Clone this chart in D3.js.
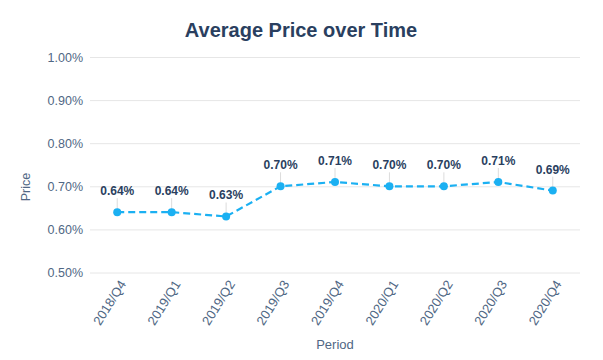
<!DOCTYPE html>
<html><head><meta charset="utf-8">
<script src="https://cdn.jsdelivr.net/npm/d3@7"></script>
<style>body{margin:0;background:#fff}svg{display:block}text{font-family:"Liberation Sans",Arial,sans-serif}</style>
</head><body>
<svg id="chart" width="603" height="360"></svg>
<script>
const periods = ["2018/Q4","2019/Q1","2019/Q2","2019/Q3","2019/Q4","2020/Q1","2020/Q2","2020/Q3","2020/Q4"];
const prices = [0.64,0.64,0.63,0.70,0.71,0.70,0.70,0.71,0.69];
const yTicks = [0.5,0.6,0.7,0.8,0.9,1.0];

(function(){
const svg = d3.select("#chart");
const mL = 90, mR = 580, mT = 57, mB = 272.5;
const x = d3.scalePoint().domain(periods).range([mL, mR]).padding(0.5);
const y = d3.scaleLinear().domain([0.5, 1.0]).range([mB, mT]);

svg.append("text").attr("x", 301).attr("y", 37).attr("text-anchor","middle")
  .attr("font-size", 20).attr("font-weight","bold").attr("fill","#2a3f5f")
  .text("Average Price over Time");

const yAxis = svg.append("g").attr("transform",`translate(${mL},0)`)
  .call(d3.axisLeft(y).tickValues(yTicks).tickSize(-(mR-mL)).tickPadding(7)
    .tickFormat(d => d.toFixed(2) + "%"));
yAxis.select(".domain").remove();
yAxis.selectAll("line").attr("stroke","#e6e6e6").attr("stroke-width",1);
yAxis.selectAll("text").attr("font-size",12.5).attr("fill","#506784").attr("font-family","Liberation Sans, Arial, sans-serif");

const xAxis = svg.append("g").attr("transform",`translate(0,${mB})`)
  .call(d3.axisBottom(x).tickSize(0).tickPadding(0));
xAxis.select(".domain").remove();
xAxis.selectAll("text").attr("font-size",13).attr("fill","#506784")
  .attr("font-family","Liberation Sans, Arial, sans-serif")
  .attr("text-anchor","end").attr("dy","0.35em")
  .attr("transform","translate(5,9) rotate(-58)");

svg.append("text").attr("x", 335).attr("y", 349).attr("text-anchor","middle")
  .attr("font-size",13).attr("fill","#506784").text("Period");
svg.append("text").attr("transform","translate(30,187) rotate(-90)").attr("text-anchor","middle")
  .attr("font-size",12.5).attr("fill","#506784").text("Price");

const data = periods.map((p,i) => ({p, v: prices[i]}));

svg.append("g").selectAll("line").data(data).join("line")
  .attr("x1", d => x(d.p)).attr("x2", d => x(d.p))
  .attr("y1", d => y(d.v) - 14).attr("y2", d => y(d.v))
  .attr("stroke","#dcdcdc").attr("stroke-width",1);

svg.append("path").datum(data)
  .attr("d", d3.line().x(d => x(d.p)).y(d => y(d.v)))
  .attr("fill","none").attr("stroke","#1bb0f2").attr("stroke-width",2.2)
  .attr("stroke-dasharray","7,4");

svg.append("g").selectAll("circle").data(data).join("circle")
  .attr("cx", d => x(d.p)).attr("cy", d => y(d.v)).attr("r",4)
  .attr("fill","#1bb0f2");

svg.append("g").selectAll("text").data(data).join("text")
  .attr("x", d => x(d.p)).attr("y", d => y(d.v) - 17)
  .attr("text-anchor","middle").attr("font-size",12).attr("font-weight","bold")
  .attr("fill","#2a3f5f").text(d => d.v.toFixed(2) + "%");
})();
</script>
</body></html>
